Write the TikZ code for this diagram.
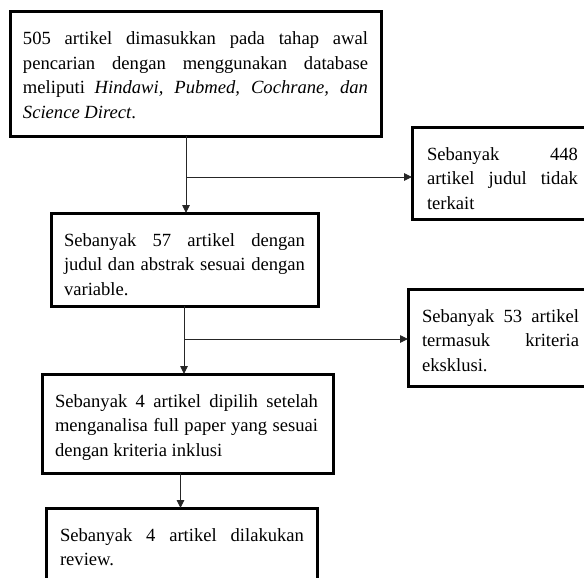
\documentclass[tikz,border=0pt]{standalone}
\usepackage{fontspec}
\setmainfont{Liberation Serif}
\usetikzlibrary{arrows.meta}
\tikzset{
  boxnode/.style={draw=black, line width=3pt, inner sep=0pt, outer sep=0pt, anchor=north west},
  txtnode/.style={inner sep=0pt, outer sep=0pt, anchor=base west, font=\fontsize{18.6}{24.5}\selectfont},
  conn/.style={draw=black!85, line width=0.9pt},
  arr/.style={conn, -{Triangle[length=8pt,width=7.5pt]}}
}
\newcommand{\jtext}[2]{\parbox[t]{#1pt}{\tolerance=10000\hbadness=10000\hfuzz=20pt\hyphenpenalty=10000\exhyphenpenalty=10000 #2}}
\begin{document}
\begin{tikzpicture}[x=1pt,y=-1pt]
\useasboundingbox (0,0) rectangle (584,578);
\begin{scope}
\clip (0,0) rectangle (584,578);
\fill[white] (0,0) rectangle (584,578);
% boxes
\node[boxnode, minimum width=371pt, minimum height=124pt] (b1) at (10,12) {};
\node[boxnode, minimum width=267pt, minimum height=93pt] (b2) at (51,213) {};
\node[boxnode, minimum width=300pt, minimum height=92pt] (b3) at (412,127) {};
\node[boxnode, minimum width=291pt, minimum height=99pt] (b4) at (42,374) {};
\node[boxnode, minimum width=300pt, minimum height=97pt] (b5) at (408,289) {};
\node[boxnode, minimum width=271pt, minimum height=150pt] (b6) at (46.5,508) {};
% texts
\node[txtnode] (t1) at (23,45) {\jtext{345}{505 artikel dimasukkan pada tahap awal\linebreak pencarian dengan menggunakan database\linebreak meliputi \textit{Hindawi, Pubmed, Cochrane, dan}\linebreak \textit{Science Direct}.}};
\node[txtnode] (t2) at (64,246) {\jtext{241}{Sebanyak 57 artikel dengan\linebreak judul dan abstrak sesuai dengan\linebreak variable.}};
\node[txtnode] (t3) at (427,160) {\jtext{151}{Sebanyak 448\linebreak artikel judul tidak\linebreak terkait}};
\node[txtnode] (t4) at (55,407) {\jtext{263}{Sebanyak 4 artikel dipilih setelah\linebreak menganalisa full paper yang sesuai\linebreak dengan kriteria inklusi}};
\node[txtnode] (t5) at (422,322) {\jtext{157}{Sebanyak 53 artikel\linebreak termasuk kriteria\linebreak eksklusi.}};
\node[txtnode] (t6) at (60,541) {\jtext{244}{Sebanyak 4 artikel dilakukan\linebreak review.}};
% connectors
\coordinate (j1) at (186,177);
\coordinate (j2) at (184,339);
\coordinate (j3) at (180.5,490);
\draw[arr] (b1.south -| j1) -- (b2.north -| j1);
\draw[arr] (j1) -- (b3.west |- j1);
\draw[arr] (b2.south -| j2) -- (b4.north -| j2);
\draw[arr] (j2) -- (b5.west |- j2);
\draw[arr] (b4.south -| j3) -- (b6.north -| j3);
\end{scope}
\end{tikzpicture}
\end{document}
